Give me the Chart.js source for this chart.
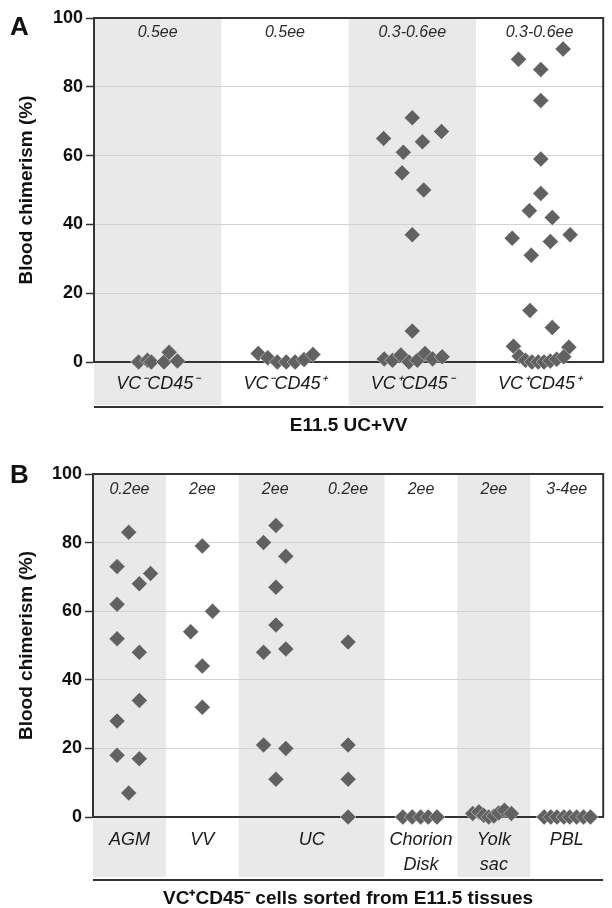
<!DOCTYPE html>
<html><head><meta charset="utf-8">
<script src="https://cdn.jsdelivr.net/npm/chart.js@4.4.1/dist/chart.umd.min.js"></script>
<style>
html,body{margin:0;padding:0;background:#fff;}
#wrap{position:relative;width:612px;height:908px;}
canvas{position:absolute;left:0;}
</style></head><body>
<div id="wrap">
<canvas id="cA" width="612" height="440" style="top:0px"></canvas>
<canvas id="cB" width="612" height="468" style="top:440px"></canvas>
</div>
<script>
// ---------- Panel A data ----------
const catsA = ['VC\u207BCD45\u207B', 'VC\u207BCD45\u207A', 'VC\u207ACD45\u207B', 'VC\u207ACD45\u207A'];
const doseA = ['0.5ee', '0.5ee', '0.3-0.6ee', '0.3-0.6ee'];
const groupsA = [[0, 0], [1, 1], [2, 2], [3, 3]];
const valsA0 = [0, 0.5, 0, 0, 2.8, 0.3];
const valsA1 = [2.5, 1.2, 0, 0, 0, 0.7, 2.2];
const valsA2 = [71, 65, 67, 64, 61, 55, 50, 37, 9, 0.9, 0.5, 2, 0, 0.5, 2.5, 0.9, 1.5];
const valsA3 = [88, 85, 91, 76, 59, 49, 44, 42, 36, 37, 35, 31, 15, 10, 4.6, 4.3, 1.7, 0.5, 0, 0, 0, 0.3, 0.8, 1.5];
// horizontal scatter of each point inside its column (fraction of a column)
const jitA0 = [-0.15, -0.08, -0.05, 0.05, 0.09, 0.155];
const jitA1 = [-0.21, -0.135, -0.06, 0.01, 0.08, 0.15, 0.22];
const jitA2 = [0, -0.225, 0.23, 0.08, -0.07, -0.08, 0.09, 0, 0, -0.22, -0.155, -0.09, -0.025, 0.04, 0.1, 0.16, 0.235];
const jitA3 = [-0.165, 0.01, 0.185, 0.01, 0.01, 0.01, -0.08, 0.1, -0.215, 0.24, 0.085, -0.065, -0.075, 0.1, -0.205, 0.23, -0.16, -0.11, -0.06, -0.01, 0.035, 0.085, 0.135, 0.19];

// ---------- Panel B data ----------
const catsB = ['AGM', 'VV', 'UC', ['Chorion', 'Disk'], ['Yolk', 'sac'], 'PBL'];
const tickPosB = [0, 1, 2.5, 4, 5, 6];
const groupsB = [[0, 0], [1, 1], [2, 3], [4, 4], [5, 5], [6, 6]];
const doseB = ['0.2ee', '2ee', '2ee', '0.2ee', '2ee', '2ee', '3-4ee'];
const valsB0 = [83, 73, 71, 68, 62, 52, 48, 34, 28, 18, 17, 7];
const valsB1 = [79, 60, 54, 44, 32];
const valsB2 = [85, 80, 76, 67, 56, 48, 49, 21, 20, 11];
const valsB3 = [51, 21, 11, 0];
const valsB4 = [0, 0, 0, 0, 0];
const valsB5 = [1, 1.5, 0.5, 0, 0.3, 1.2, 2, 1];
const valsB6 = [0, 0, 0, 0, 0, 0, 0, 0];
const jitB0 = [-0.01, -0.17, 0.29, 0.135, -0.17, -0.17, 0.135, 0.135, -0.17, -0.17, 0.135, -0.01];
const jitB1 = [0, 0.14, -0.16, 0, 0];
const jitB2 = [0.01, -0.16, 0.145, 0.01, 0.01, -0.16, 0.145, -0.16, 0.145, 0.01];
const jitB3 = [0, 0, 0, 0];
const jitB4 = [-0.25, -0.12, -0.005, 0.1, 0.22];
const jitB5 = [-0.29, -0.205, -0.14, -0.07, 0, 0.065, 0.145, 0.24];
const jitB6 = [-0.31, -0.22, -0.135, -0.04, 0.04, 0.135, 0.23, 0.325];

const yTicks = [0, 20, 40, 60, 80, 100];

// ---------- styling ----------
const FONT = "'Liberation Sans', Arial, Helvetica, sans-serif";
const DARK = '#333333';
const BAND = '#e9e9e9';
const MARK = '#616161';

function pts(vals, jit, col) {
  return vals.map((v, k) => ({ x: col + jit[k], y: v }));
}

function makePanel(id, cfg) {
  const points = [];
  cfg.vals.forEach((vals, c) => points.push(...pts(vals, cfg.jits[c], c)));
  const nCols = cfg.dose.length;

  const deco = {
    id: 'deco_' + id,
    beforeDraw(chart) {
      const ctx = chart.ctx, xs = chart.scales.x, ca = chart.chartArea;
      ctx.save();
      ctx.fillStyle = BAND;
      cfg.groups.forEach((g, i) => {
        if (i % 2 === 0) {
          const l = xs.getPixelForValue(g[0] - 0.5), r = xs.getPixelForValue(g[1] + 0.5);
          ctx.fillRect(l, ca.top, r - l, cfg.bandBottom - ca.top);
        }
      });
      ctx.restore();
    },
    afterDraw(chart) {
      const ctx = chart.ctx, xs = chart.scales.x, ca = chart.chartArea;
      ctx.save();
      ctx.strokeStyle = DARK; ctx.lineWidth = 2;
      ctx.beginPath();
      ctx.moveTo(ca.left, ca.top); ctx.lineTo(ca.right, ca.top); ctx.lineTo(ca.right, ca.bottom);
      ctx.stroke();
      ctx.beginPath();
      ctx.moveTo(ca.left, cfg.sepY); ctx.lineTo(ca.right, cfg.sepY);
      ctx.stroke();
      ctx.fillStyle = '#2a2a2a';
      ctx.font = 'italic 16px ' + FONT;
      ctx.textAlign = 'center'; ctx.textBaseline = 'middle';
      cfg.dose.forEach((d, i) => ctx.fillText(d, xs.getPixelForValue(i), cfg.doseY));
      ctx.fillStyle = '#111';
      ctx.font = 'bold 26px ' + FONT;
      ctx.textAlign = 'left'; ctx.textBaseline = 'alphabetic';
      ctx.fillText(cfg.letter, 10, cfg.letterY);
      ctx.restore();
    }
  };

  return new Chart(document.getElementById(id), {
    type: 'scatter',
    data: {
      datasets: [{
        data: points,
        pointStyle: 'rectRot',
        pointRadius: 8,
        pointHoverRadius: 8,
        backgroundColor: MARK,
        borderColor: 'rgba(255,255,255,0.55)',
        borderWidth: 0.8,
        clip: false
      }]
    },
    options: {
      responsive: false,
      animation: false,
      devicePixelRatio: 1,
      events: [],
      layout: { padding: { top: cfg.top, right: 2, left: 0, bottom: 0 } },
      plugins: { legend: { display: false }, tooltip: { enabled: false } },
      scales: {
        x: {
          type: 'linear',
          min: -0.5, max: nCols - 0.5,
          afterBuildTicks: s => { s.ticks = cfg.tickPos.map(v => ({ value: v })); },
          afterFit: s => { s.height = cfg.xHeight; },
          grid: { display: false, drawTicks: false },
          border: { display: true, color: DARK, width: 2 },
          ticks: {
            autoSkip: false, maxRotation: 0, minRotation: 0,
            padding: cfg.labelPad,
            color: '#1a1a1a',
            font: { family: FONT, size: 18, style: 'italic', lineHeight: cfg.labelLH },
            callback: (v, i) => cfg.cats[i]
          },
          title: {
            display: true, text: cfg.xTitle, color: '#111',
            font: { family: FONT, size: 19, weight: 'bold', lineHeight: 1 },
            padding: { top: 0, bottom: cfg.titlePad }
          }
        },
        y: {
          min: 0, max: 100,
          afterBuildTicks: s => { s.ticks = yTicks.map(v => ({ value: v })); },
          afterFit: s => { s.width = cfg.yWidth; },
          grid: { color: '#d2d2d2', lineWidth: 1, tickColor: DARK, tickLength: 8, tickWidth: 1.5 },
          border: { display: true, color: DARK, width: 2 },
          ticks: { padding: 3, color: '#111', font: { family: FONT, size: 18, weight: 'bold' } },
          title: {
            display: true, text: 'Blood chimerism (%)', color: '#111',
            font: { family: FONT, size: 19, weight: 'bold' },
            padding: { top: 15, bottom: 0 }
          }
        }
      }
    },
    plugins: [deco]
  });
}

makePanel('cA', {
  vals: [valsA0, valsA1, valsA2, valsA3],
  jits: [jitA0, jitA1, jitA2, jitA3],
  cats: catsA, tickPos: [0, 1, 2, 3], groups: groupsA, dose: doseA,
  xTitle: 'E11.5 UC+VV', letter: 'A',
  top: 18, xHeight: 78, yWidth: 94, labelPad: 11, labelLH: 1.2, titlePad: 5,
  bandBottom: 405, sepY: 407, doseY: 33, letterY: 35
});

makePanel('cB', {
  vals: [valsB0, valsB1, valsB2, valsB3, valsB4, valsB5, valsB6],
  jits: [jitB0, jitB1, jitB2, jitB3, jitB4, jitB5, jitB6],
  cats: catsB, tickPos: tickPosB, groups: groupsB, dose: doseB,
  xTitle: 'VC\u207ACD45\u207B cells sorted from E11.5 tissues', letter: 'B',
  top: 34, xHeight: 91, yWidth: 93, labelPad: 10, labelLH: 1.4, titlePad: 0,
  bandBottom: 437, sepY: 440, doseY: 50, letterY: 43
});
</script>
</body></html>
